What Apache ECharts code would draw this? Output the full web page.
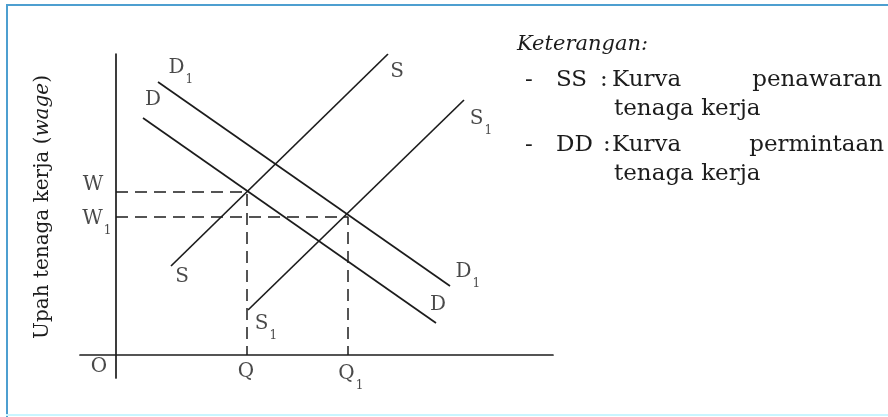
<!DOCTYPE html>
<html>
<head>
<meta charset="utf-8">
<script src="https://cdn.jsdelivr.net/npm/echarts@6/dist/echarts.min.js"></script>
<style>
  html, body { margin: 0; padding: 0; background: #fff; }
  #chart { width: 888px; height: 417px; }
</style>
</head>
<body>
<div id="chart"></div>
<script>
// kurva penawaran (S) dan permintaan (D) tenaga kerja, satuan bebas
var curveS  = [[5.5, 8.9], [27.2, 30.1]];
var curveS1 = [[13.2, 4.5], [34.8, 25.5]];
var curveD  = [[2.7, 23.7], [32.0, 3.2]];
var curveD1 = [[4.2, 27.3], [33.4, 6.9]];

// titik keseimbangan
var wageW = 16.3, qtyQ = 13.1;
var wageW1 = 13.8, qtyQ1 = 23.2;

var xRange = [-3.6, 43.7];
var yRange = [-2.3, 30.1];

var ink = '#1c1c1c';
var serif = 'DejaVu Serif';

var rich = {
  m: { fontFamily: serif, fontSize: 20, color: ink, lineHeight: 20, verticalAlign: 'top' },
  s: { fontFamily: serif, fontSize: 12, color: ink, lineHeight: 12, verticalAlign: 'bottom', padding: [0, 0, 0, 1] },
  z: { fontSize: 1, lineHeight: 28, verticalAlign: 'bottom' }
};

function tag(pt, main, sub, off) {
  var txt = '{m|' + main + '}' + (sub ? '{s|' + sub + '}{z| }' : '');
  var o = sub ? [off[0] + 4, off[1] + 6] : off;
  return {
    value: pt,
    label: { show: true, position: 'inside', color: ink, formatter: txt, rich: rich, offset: o }
  };
}

var chart = echarts.init(document.getElementById('chart'));

var lineStyle = { color: ink, width: 1.7 };
var dashStyle = { color: ink, width: 1.5, type: [12, 7] };

var tags = [
  tag(curveS[1], 'S', '', [9, 18]),
  tag(curveS[0], 'S', '', [11, 11]),
  tag(curveS1[1], 'S', '1', [13, 17]),
  tag(curveS1[0], 'S', '1', [14, 12]),
  tag(curveD[0], 'D', '', [10, -18]),
  tag(curveD[1], 'D', '', [2, -18]),
  tag(curveD1[0], 'D', '1', [19, -16]),
  tag(curveD1[1], 'D', '1', [14, -16]),
  tag([0, wageW], 'W', '', [-23, -7]),
  tag([0, wageW1], 'W', '1', [-23, 0]),
  tag([0, 0], 'O', '', [-17, 12]),
  tag([qtyQ, 0], 'Q', '', [-1, 17]),
  tag([qtyQ1, 0], 'Q', '1', [-1, 17])
];

function note(x, y, text, align) {
  return {
    type: 'text', x: x, y: y,
    style: { text: text, fontFamily: serif, fontSize: 23, fill: ink, align: align || 'left', verticalAlign: 'middle' }
  };
}

var option = {
  backgroundColor: '#fff',
  animation: false,
  grid: { left: 80, top: 54, width: 473, height: 324 },
  xAxis: {
    type: 'value', min: xRange[0], max: xRange[1],
    axisLine: { show: true, onZero: true, lineStyle: { color: ink, width: 1.7 } },
    axisTick: { show: false }, axisLabel: { show: false }, splitLine: { show: false }
  },
  yAxis: {
    type: 'value', min: yRange[0], max: yRange[1],
    axisLine: { show: true, onZero: true, lineStyle: { color: ink, width: 1.7 } },
    axisTick: { show: false }, axisLabel: { show: false }, splitLine: { show: false }
  },
  graphic: [
    { type: 'line', shape: { x1: 6, y1: 5, x2: 888, y2: 5 }, style: { stroke: '#4d9fd0', lineWidth: 2 } },
    { type: 'line', shape: { x1: 7, y1: 4, x2: 7, y2: 417 }, style: { stroke: '#4d9fd0', lineWidth: 2 } },
    { type: 'line', shape: { x1: 6, y1: 415, x2: 888, y2: 415 }, style: { stroke: '#c9f5ff', lineWidth: 2 } },
    {
      type: 'text', x: 43, y: 207, rotation: Math.PI / 2,
      style: {
        text: '{a|Upah tenaga kerja (}{b|wage}{a|)}',
        align: 'center', verticalAlign: 'middle',
        rich: {
          a: { fontFamily: serif, fontSize: 20, fill: ink },
          b: { fontFamily: serif, fontSize: 20, fontStyle: 'italic', fill: ink }
        }
      }
    },
    { type: 'text', x: 517, y: 45, style: { text: 'Keterangan:', fontFamily: serif, fontSize: 21, fontStyle: 'italic', fill: ink, verticalAlign: 'middle' } },
    note(525, 80, '-'),
    note(556, 80, 'SS'),
    note(600, 80, ':'),
    note(612, 80, 'Kurva'),
    note(882, 80, 'penawaran', 'right'),
    note(614, 109, 'tenaga kerja'),
    note(525, 145, '-'),
    note(556, 145, 'DD'),
    note(603, 145, ':'),
    note(612, 145, 'Kurva'),
    note(884, 145, 'permintaan', 'right'),
    note(614, 174, 'tenaga kerja')
  ],
  series: [
    { name: 'S', type: 'line', data: curveS, symbol: 'none', lineStyle: lineStyle },
    { name: 'S1', type: 'line', data: curveS1, symbol: 'none', lineStyle: lineStyle },
    { name: 'D', type: 'line', data: curveD, symbol: 'none', lineStyle: lineStyle },
    { name: 'D1', type: 'line', data: curveD1, symbol: 'none', lineStyle: lineStyle },
    { name: 'W', type: 'line', data: [[0, wageW], [qtyQ, wageW], [qtyQ, 0]], symbol: 'none', lineStyle: dashStyle },
    { name: 'W1', type: 'line', data: [[0, wageW1], [qtyQ1, wageW1], [qtyQ1, 0]], symbol: 'none', lineStyle: dashStyle },
    { name: 'label', type: 'scatter', data: tags, symbolSize: 0, silent: true, z: 5 }
  ]
};
chart.setOption(option);
</script>
</body>
</html>
